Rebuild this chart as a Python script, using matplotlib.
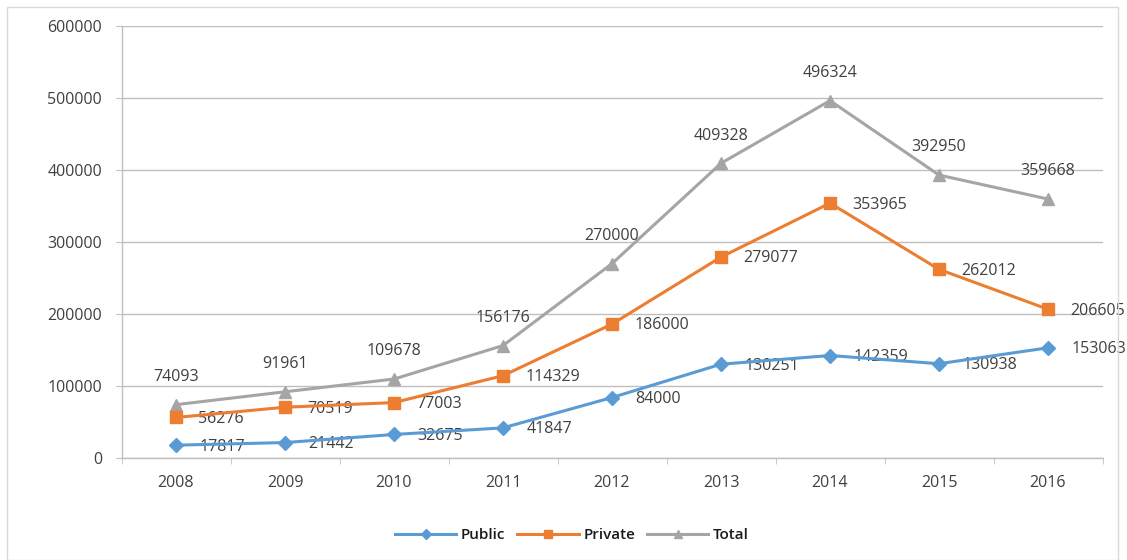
import matplotlib
matplotlib.use("Agg")
import matplotlib.pyplot as plt
from matplotlib.patches import Rectangle
import numpy as np

years = ["2008", "2009", "2010", "2011", "2012", "2013", "2014", "2015", "2016"]
public = [17817, 21442, 32675, 41847, 84000, 130251, 142359, 130938, 153063]
private = [56276, 70519, 77003, 114329, 186000, 279077, 353965, 262012, 206605]
total = [74093, 91961, 109678, 156176, 270000, 409328, 496324, 392950, 359668]
yticks = [0, 100000, 200000, 300000, 400000, 500000, 600000]

plt.rcParams['font.family'] = ['Open Sans', 'DejaVu Sans']

fig = plt.figure(figsize=(11.27, 5.60), dpi=100)
ax = fig.add_axes([121.5/1127, 1 - 458/560, (1102.5 - 121.5)/1127, (458 - 26)/560])

x = np.arange(len(years))
c_pub, c_priv, c_tot = "#5B9BD5", "#ED7D31", "#A5A5A5"

ax.plot(x, total, color=c_tot, lw=2.2, marker="^", ms=9, label="Total", zorder=3)
ax.plot(x, private, color=c_priv, lw=2.2, marker="s", ms=9, label="Private", zorder=4)
ax.plot(x, public, color=c_pub, lw=2.2, marker="D", ms=7, label="Public", zorder=5)

txtc = "#404040"
fs = 11.5
for xi, v in zip(x, total):
    ax.annotate(f"{v}", (xi, v), xytext=(0, 20), textcoords="offset points",
                ha="center", va="center", fontsize=fs, color=txtc)
for xi, v in zip(x, private):
    ax.annotate(f"{v}", (xi, v), xytext=(16, -1), textcoords="offset points",
                ha="left", va="center", fontsize=fs, color=txtc)
for xi, v in zip(x, public):
    ax.annotate(f"{v}", (xi, v), xytext=(17, -1), textcoords="offset points",
                ha="left", va="center", fontsize=fs, color=txtc)

ax.set_xlim(-0.5, len(years) - 0.5)
ax.set_ylim(0, 600000)
ax.set_yticks(yticks)
ax.set_yticklabels([str(t) for t in yticks], fontsize=fs, color=txtc)
ax.set_xticks(x)
ax.set_xticklabels(years, fontsize=fs, color=txtc)
ax.tick_params(axis="x", length=0, pad=12)
ax.set_xticks(np.arange(-0.5, len(years), 1), minor=True)
ax.tick_params(axis="x", which="minor", length=4, color="#BFBFBF", direction="out")
ax.tick_params(axis="y", length=4, color="#BFBFBF", pad=10)
ax.grid(axis="y", color="#BFBFBF", lw=1)
ax.set_axisbelow(True)
for s in ["top", "right"]:
    ax.spines[s].set_visible(False)
for s in ["left", "bottom"]:
    ax.spines[s].set_color("#BFBFBF")
    ax.spines[s].set_linewidth(1)

handles, labels = ax.get_legend_handles_labels()
order = [2, 1, 0]
leg = fig.legend([handles[i] for i in order], [labels[i] for i in order],
                 loc="center", bbox_to_anchor=(572/1127, 1 - 535/560), ncol=3,
                 frameon=False, prop={"size": 11, "weight": "semibold"},
                 handlelength=4.0, columnspacing=0.8, markerscale=0.7,
                 handletextpad=0.3)
for t in leg.get_texts():
    t.set_color("#1a1a1a")

fig.patches.append(Rectangle((7/1127, 0), 1111/1127, 1 - 7/560, transform=fig.transFigure,
                             fill=False, edgecolor="#D9D9D9", lw=1))

fig.savefig("out.png", dpi=100)
